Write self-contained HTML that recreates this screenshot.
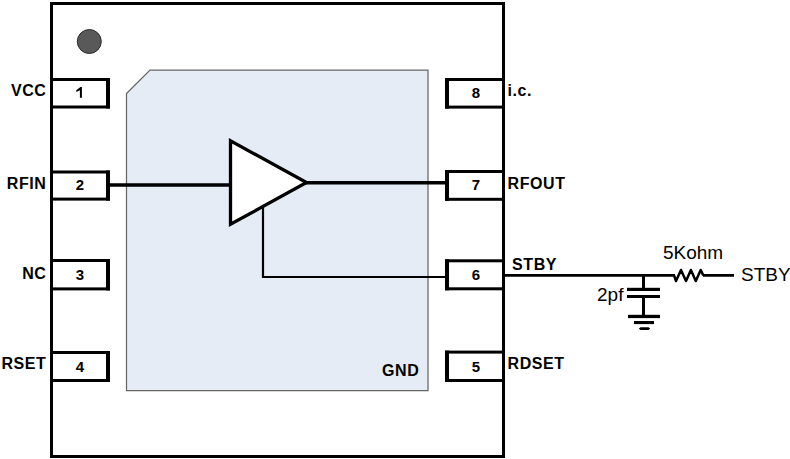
<!DOCTYPE html>
<html><head><meta charset="utf-8">
<style>
html,body{margin:0;padding:0;background:#fff;width:790px;height:459px;overflow:hidden}
svg{display:block}
text{font-family:"Liberation Sans",sans-serif;fill:#000}
.b{font-weight:bold;font-size:16px;letter-spacing:0.6px}
.d{font-weight:bold;font-size:15px;letter-spacing:0}
.r{font-size:19px}
</style></head><body>
<svg width="790" height="459" viewBox="0 0 790 459">
<!-- outer package -->
<rect x="51.5" y="3.5" width="452" height="453" fill="#fff" stroke="#000" stroke-width="3"/>
<!-- dot -->
<circle cx="89.3" cy="41.5" r="12" fill="#595959" stroke="#2b2b2b" stroke-width="1"/>
<!-- die -->
<path d="M126.5,93.5 L150,70 H428 V390.5 H126.5 Z" fill="#E6ECF6" stroke="#666" stroke-width="1.25"/>
<!-- left pins -->
<g fill="#000">
<rect x="50" y="78" width="60" height="3"/><rect x="50" y="105.5" width="60" height="3"/><rect x="106" y="78" width="4" height="30.5"/>
<rect x="50" y="170.5" width="60" height="3"/><rect x="50" y="197.6" width="60" height="3"/><rect x="106" y="170.5" width="4" height="30.1"/>
<rect x="50" y="259" width="60" height="3"/><rect x="50" y="287.4" width="60" height="3"/><rect x="106" y="259" width="4" height="31.4"/>
<rect x="50" y="351" width="60" height="3"/><rect x="50" y="379" width="60" height="3"/><rect x="106" y="351" width="4" height="31"/>
<!-- right pins -->
<rect x="445" y="78" width="60" height="3"/><rect x="445" y="105.6" width="60" height="3"/><rect x="445" y="78" width="4" height="30.6"/>
<rect x="445" y="170" width="60" height="3"/><rect x="445" y="197.8" width="60" height="3"/><rect x="445" y="170" width="4" height="30.8"/>
<rect x="445" y="259.3" width="60" height="3"/><rect x="445" y="287.3" width="60" height="3"/><rect x="445" y="259.3" width="4" height="31"/>
<rect x="445" y="350.6" width="60" height="3"/><rect x="445" y="379" width="60" height="3"/><rect x="445" y="350.6" width="4" height="31.4"/>
</g>
<!-- signal lines -->
<line x1="110" y1="185" x2="231" y2="185" stroke="#000" stroke-width="3.6"/>
<line x1="304" y1="182.8" x2="445" y2="182.8" stroke="#000" stroke-width="3.6"/>
<path d="M263,205 V277 H445" fill="none" stroke="#000" stroke-width="2.2"/>
<path d="M230.5,140.8 V224.3 L306.5,182.55 Z" fill="#fff" stroke="#000" stroke-width="3.3"/>
<!-- external -->
<path d="M505,275.4 H675 M703,275.4 H734" fill="none" stroke="#000" stroke-width="2.8"/>
<path d="M674,275.4 L676,281 L681,270 L686,281 L690.9,270 L695.8,281 L700.7,270 L703.3,275.4" fill="none" stroke="#000" stroke-width="2.5" stroke-linejoin="round"/>
<line x1="643.5" y1="275.5" x2="643.5" y2="289" stroke="#000" stroke-width="3"/>
<line x1="643.5" y1="296.5" x2="643.5" y2="316.5" stroke="#000" stroke-width="3"/>
<rect x="627" y="287.8" width="33" height="3.2" fill="#000"/>
<rect x="627" y="295" width="33" height="3" fill="#000"/>
<rect x="628" y="314.8" width="32" height="3.3" fill="#000"/>
<rect x="634" y="321" width="20" height="3.1" fill="#000"/>
<polygon points="638.8,328.6 640.5,327.3 648.5,327.3 650.2,328.6 648.5,329.9 640.5,329.9" fill="#000"/>
<!-- labels -->
<g class="b">
<text x="46.5" y="95.8" text-anchor="end">VCC</text>
<text x="46.5" y="189" text-anchor="end">RFIN</text>
<text x="46.5" y="278.7" text-anchor="end">NC</text>
<text x="46.5" y="368.7" text-anchor="end">RSET</text>
<text x="507.5" y="96">i.c.</text>
<text x="507.5" y="189">RFOUT</text>
<text x="512" y="269.7">STBY</text>
<text x="507.5" y="369">RDSET</text>
<text x="382" y="376">GND</text>
<path d="M81.9,87.1 V97.8 H79.9 V90.2 L76.3,92 V90.3 L80.4,87.1 Z" fill="#000"/>
<text x="79.9" y="189.9" text-anchor="middle" class="d">2</text>
<text x="79.9" y="280" text-anchor="middle" class="d">3</text>
<text x="79.9" y="372" text-anchor="middle" class="d">4</text>
<text x="475.9" y="372" text-anchor="middle" class="d">5</text>
<text x="475.9" y="280" text-anchor="middle" class="d">6</text>
<text x="475.9" y="189.9" text-anchor="middle" class="d">7</text>
<text x="475.9" y="97.6" text-anchor="middle" class="d">8</text>
</g>
<g class="r">
<text x="663" y="258.5">5Kohm</text>
<text x="741" y="280.9">STBY</text>
<text x="597" y="300.9">2pf</text>
</g>
</svg>
</body></html>
